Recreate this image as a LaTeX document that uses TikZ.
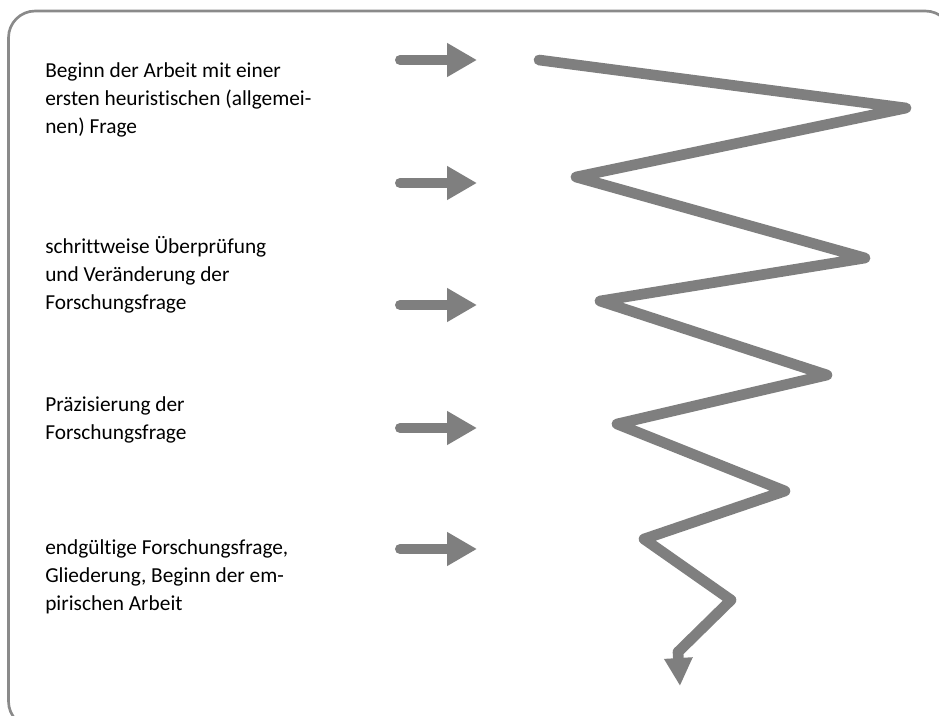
\documentclass[tikz,border=0pt]{standalone}
\usepackage{fontspec}
\setmainfont{Carlito}[RawFeature={-liga}]
\usetikzlibrary{arrows.meta}

\definecolor{arrowgray}{HTML}{7F7F7F}
\definecolor{framegray}{HTML}{8A8A8A}

\tikzset{
	stage/.style={anchor=base west, align=left, inner sep=0pt, font=\fontsize{16}{21}\selectfont},
	pointer/.style={draw=arrowgray, fill=arrowgray, line width=7.5pt, line cap=round, -{Triangle[length=22.5pt, width=24pt]}},
	zigzag/.style={draw=arrowgray, line width=8pt, line cap=round, line join=round, -{Triangle[length=21pt, width=20pt, fill=arrowgray]}}
}

\begin{document}
\begin{tikzpicture}[x=0.75pt, y=-0.75pt]
	\clip (0,0) rectangle (939,715);
	\draw [framegray, line width=2pt, rounded corners=20pt] (8.5,11) rectangle (952,728);

	% texts on the left (placed at the baseline of their last line)
	\node [stage] (start) at (45,133) {Beginn der Arbeit mit einer\\ersten heuristischen (allgemei-\\nen) Frage};
	\node [stage] (check) at (45,309) {schrittweise Überprüfung\\und Veränderung der\\Forschungsfrage};
	\node [stage] (precise) at (45,439) {Präzisierung der\\Forschungsfrage};
	\node [stage] (final) at (45,610) {endgültige Forschungsfrage,\\Gliederung, Beginn der em-\\pirischen Arbeit};

	% short arrows
	\foreach \y [count=\i] in {60,183,305,428,549} {
		\coordinate (a\i) at (400,\y);
		\coordinate (b\i) at (477,\y);
		\draw [pointer] (a\i) -- (b\i);
	}

	% zigzag
	\coordinate (z0) at (539,60);
	\coordinate (z1) at (906,108);
	\coordinate (z2) at (576,177);
	\coordinate (z3) at (865,258);
	\coordinate (z4) at (600,301);
	\coordinate (z5) at (827,375);
	\coordinate (z6) at (617,424);
	\coordinate (z7) at (785,491);
	\coordinate (z8) at (644,539);
	\coordinate (z9) at (731,600);
	\coordinate (z10) at (678,652);
	\coordinate (tip) at (680,686);
	\draw [zigzag] (z0) -- (z1) -- (z2) -- (z3) -- (z4) -- (z5) -- (z6) -- (z7) -- (z8) -- (z9) -- (z10) -- (tip);
\end{tikzpicture}
\end{document}
